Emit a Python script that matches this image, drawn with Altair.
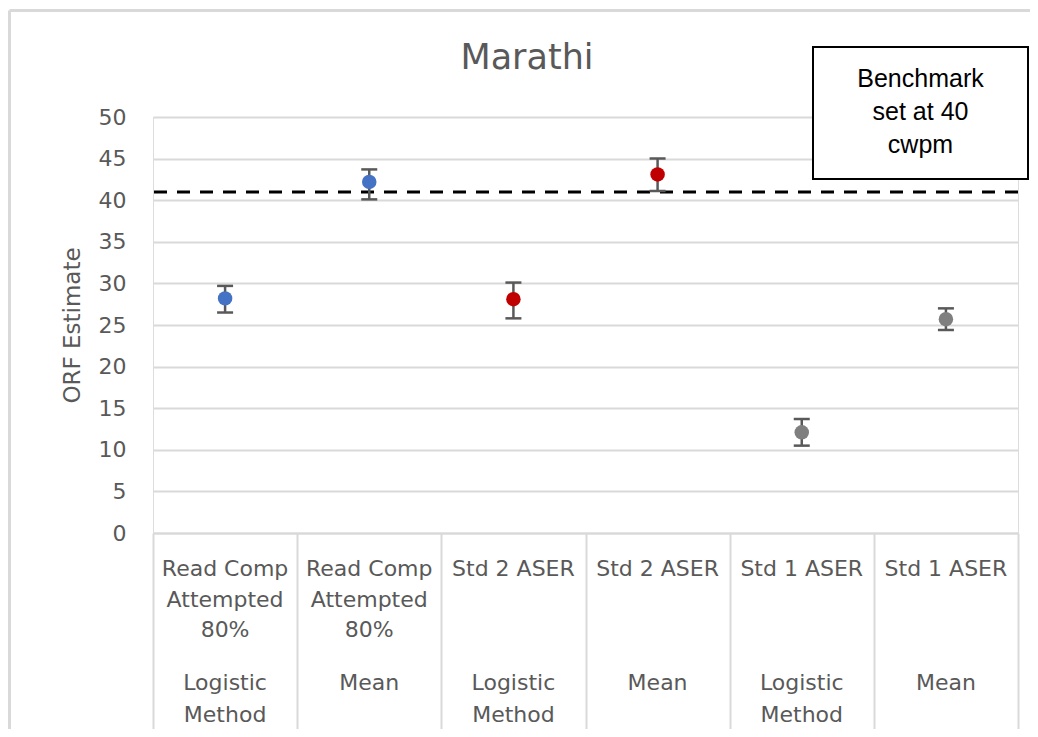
import altair as alt
import pandas as pd

# ---- data ----
keys = ["rc_log", "rc_mean", "s2_log", "s2_mean", "s1_log", "s1_mean"]
measure_labels = ["Read Comp|Attempted|80%", "Read Comp|Attempted|80%",
                  "Std 2 ASER", "Std 2 ASER", "Std 1 ASER", "Std 1 ASER"]
method_labels = ["Logistic|Method", "Mean", "Logistic|Method", "Mean",
                 "Logistic|Method", "Mean"]
estimates = [28.2, 42.2, 28.1, 43.1, 12.1, 25.7]
lower = [26.5, 40.1, 25.8, 41.1, 10.5, 24.4]
upper = [29.7, 43.7, 30.1, 45.0, 13.7, 27.0]
colors = ["#4472C4", "#4472C4", "#C00000", "#C00000", "#7F7F7F", "#7F7F7F"]
benchmark = [41]
benchmark_note = ["Benchmark|set at 40|cwpm"]
chart_title = ["Marathi"]
y_ticks = [0, 5, 10, 15, 20, 25, 30, 35, 40, 45, 50]

df = pd.DataFrame({
    "key": keys, "measure": measure_labels, "method": method_labels,
    "est": estimates, "lo": lower, "hi": upper,
})

W, H = 865, 416
GRID = "#d9d9d9"
TXT = "#595959"
FONT = "DejaVu Sans"

xs = alt.X("key:N", sort=keys,
           scale=alt.Scale(type="band", domain=keys, paddingInner=0, paddingOuter=0),
           axis=alt.Axis(title=None, labels=False, domain=True, domainColor=GRID,
                         domainWidth=2, ticks=True, tickBand="extent", tickSize=197,
                         tickColor=GRID, tickWidth=2, grid=False))
ys = alt.Y("est:Q", scale=alt.Scale(domain=[0, 50], nice=False),
           axis=alt.Axis(title="ORF Estimate", values=y_ticks, grid=True, gridColor=GRID,
                         gridWidth=2, domain=False, ticks=False, labelPadding=27,
                         labelFontSize=22, labelColor=TXT, labelFont=FONT,
                         titleFont=FONT, titleFontSize=23, titleColor=TXT,
                         titleFontWeight="normal", titlePadding=14))

base = alt.Chart(df)

one = pd.DataFrame({"f": [1]})
frame_top = alt.Chart(one).mark_rule(color=GRID, strokeWidth=3).encode(
    x=alt.value(-143.5), x2=alt.value(880), y=alt.value(-106.5))
frame_left = alt.Chart(one).mark_rule(color=GRID, strokeWidth=3).encode(
    x=alt.value(-143.5), y=alt.value(-106.5), y2=alt.value(612))

points = base.mark_circle(size=210, opacity=1).encode(
    x=xs, y=ys,
    color=alt.Color("key:N", scale=alt.Scale(domain=keys, range=colors), legend=None),
)

bench = alt.Chart(pd.DataFrame({"b": benchmark})).mark_rule(
    color="black", strokeWidth=3, strokeDash=[13, 10]
).encode(y=alt.Y("b:Q"))

err = base.mark_rule(color=TXT, strokeWidth=2.5).encode(
    x=alt.X("key:N", sort=keys), y=alt.Y("lo:Q"), y2="hi:Q")
cap_hi = base.mark_tick(color=TXT, size=16, thickness=2.5, opacity=1).encode(
    x=alt.X("key:N", sort=keys), y=alt.Y("hi:Q"))
cap_lo = base.mark_tick(color=TXT, size=16, thickness=2.5, opacity=1).encode(
    x=alt.X("key:N", sort=keys), y=alt.Y("lo:Q"))

lab1 = base.mark_text(font=FONT, fontSize=22, color=TXT, baseline="alphabetic",
                      lineBreak="|", lineHeight=30.5, align="center").encode(
    x=alt.X("key:N", sort=keys), y=alt.value(H + 43), text="measure:N")
lab2 = base.mark_text(font=FONT, fontSize=22, color=TXT, baseline="alphabetic",
                      lineBreak="|", lineHeight=31.5, align="center").encode(
    x=alt.X("key:N", sort=keys), y=alt.value(H + 157), text="method:N")

title = alt.Chart(pd.DataFrame({"t": chart_title})).mark_text(
    font=FONT, fontSize=35, color=TXT, baseline="alphabetic", align="center"
).encode(x=alt.value(374), y=alt.value(-48), text="t:N")

box = alt.Chart(pd.DataFrame({"n": benchmark_note})).mark_rect(
    fill="white", stroke="black", strokeWidth=2
).encode(x=alt.value(660), x2=alt.value(875), y=alt.value(-70), y2=alt.value(62))
box_text = alt.Chart(pd.DataFrame({"n": benchmark_note})).mark_text(
    font="Liberation Sans", fontSize=25, color="black", baseline="alphabetic",
    align="center", lineBreak="|", lineHeight=33
).encode(x=alt.value(767.5), y=alt.value(-30), text="n:N")

chart = alt.layer(
    frame_top, frame_left, bench, err, cap_hi, cap_lo, points, lab1, lab2, title, box, box_text
).properties(
    width=W, height=H,
    autosize=alt.AutoSizeParams(type="none"),
    padding={"left": 145, "top": 109, "right": 12, "bottom": 196},
).configure_view(stroke=None).configure(background="white")

chart.save("out.html", embed_options={"renderer": "svg", "actions": False})
